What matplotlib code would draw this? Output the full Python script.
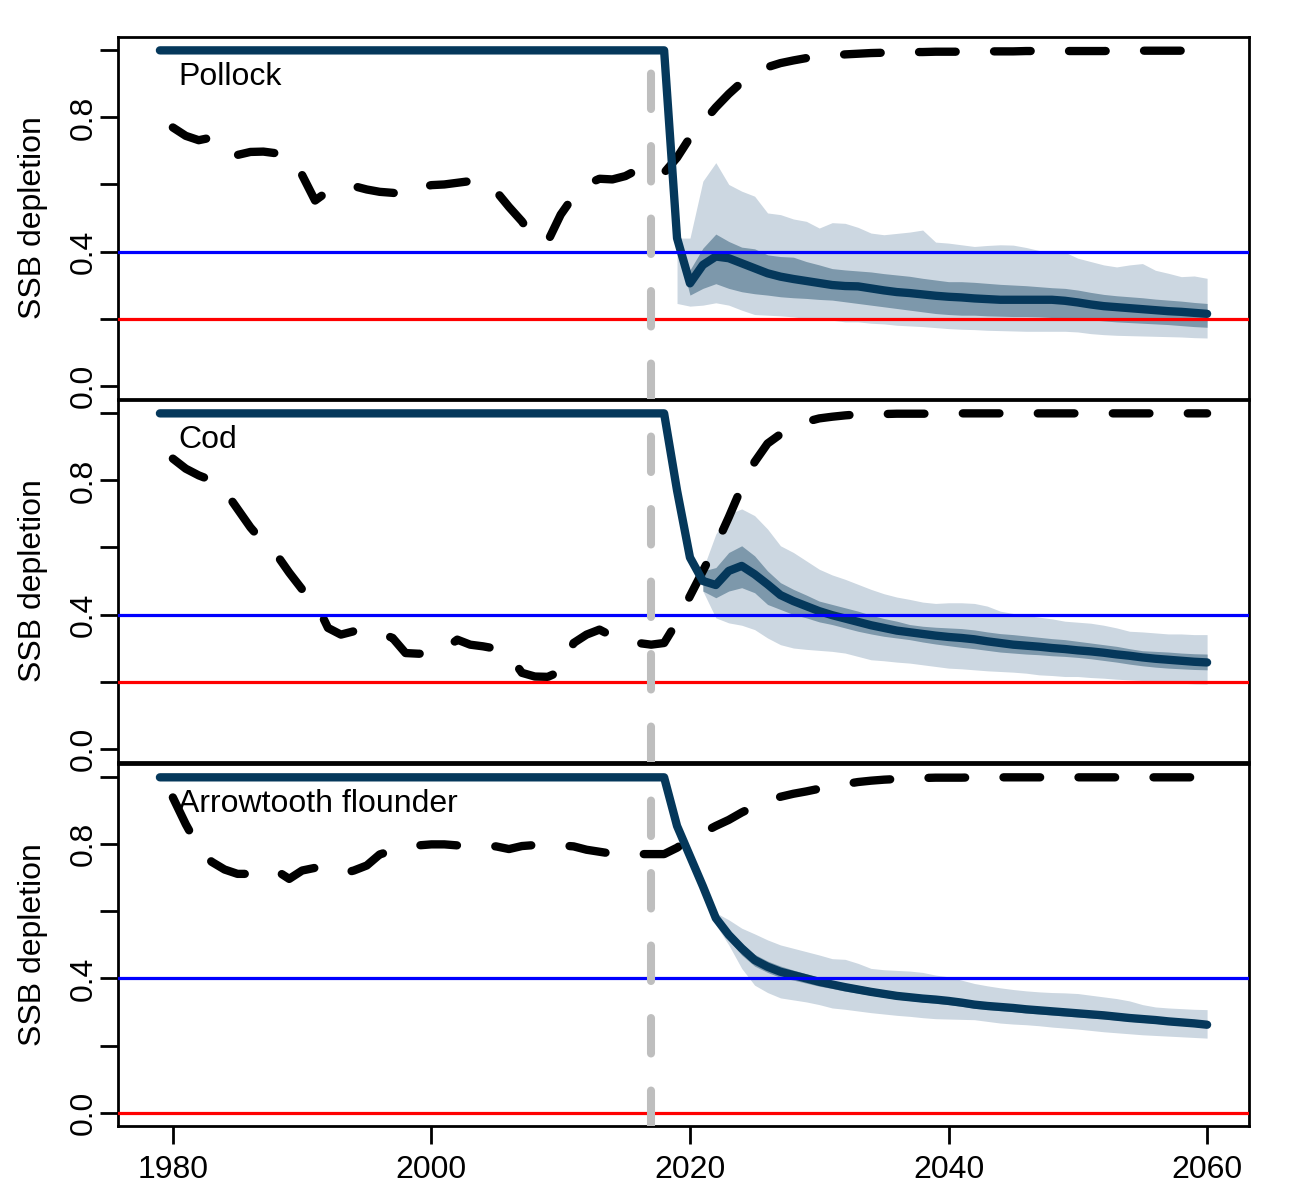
import matplotlib
matplotlib.use("Agg")
import matplotlib.pyplot as plt

plt.rcParams['font.family'] = ['Liberation Sans', 'DejaVu Sans']
plt.rcParams['font.size'] = 23

# years
years = list(range(1979, 2061))        # solid line
hist_years = list(range(1980, 2061))   # dashed line
ref_year = 2017

species = ['Pollock', 'Cod', 'Arrowtooth flounder']
target = [0.4, 0.4, 0.4]
limit = [0.2, 0.2, 0.0]

x_ticks = [1980, 2000, 2020, 2040, 2060]
y_ticks = [0.0, 0.2, 0.4, 0.6, 0.8, 1.0]
y_tick_labels = ['0.0', '', '0.4', '', '0.8', '']

# ---- Pollock ----
pollock_dashed = [
    0.770, 0.745, 0.732, 0.740, 0.700, 0.688, 0.697, 0.698, 0.693, 0.685,
    0.628, 0.552, 0.580, 0.593, 0.595, 0.585, 0.578, 0.575, 0.570, 0.590,
    0.598, 0.600, 0.605, 0.610, 0.610, 0.580, 0.533, 0.490, 0.435, 0.430,
    0.510, 0.565, 0.600, 0.617, 0.615, 0.625, 0.645, 0.655, 0.635, 0.680,
    0.740, 0.785, 0.830, 0.870, 0.905, 0.930, 0.950, 0.962, 0.970, 0.977,
    0.982, 0.985, 0.988, 0.990, 0.992, 0.993, 0.994, 0.995, 0.995, 0.996,
    0.996, 0.996, 0.997, 0.997, 0.997, 0.997, 0.998, 0.998, 0.998, 0.998,
    0.998, 0.998, 0.998, 0.999, 0.999, 0.999, 0.999, 0.999, 0.999, 0.999,
    0.999,
]
pollock_solid = [
    1.0,
    1.0, 1.0, 1.0, 1.0, 1.0, 1.0, 1.0, 1.0, 1.0, 1.0,
    1.0, 1.0, 1.0, 1.0, 1.0, 1.0, 1.0, 1.0, 1.0, 1.0,
    1.0, 1.0, 1.0, 1.0, 1.0, 1.0, 1.0, 1.0, 1.0, 1.0,
    1.0, 1.0, 1.0, 1.0, 1.0, 1.0, 1.0, 1.0, 1.0, 0.440,
    0.305, 0.360, 0.385, 0.380, 0.365, 0.350, 0.335, 0.325, 0.318, 0.312,
    0.306, 0.300, 0.297, 0.296, 0.290, 0.284, 0.279, 0.276, 0.272, 0.268,
    0.265, 0.263, 0.260, 0.258, 0.256, 0.256, 0.256, 0.256, 0.256, 0.253,
    0.248, 0.242, 0.237, 0.234, 0.231, 0.228, 0.225, 0.222, 0.220, 0.217,
    0.214,
]
pollock_band_years = list(range(2019, 2061))
pollock_light_hi = [
    0.440,
    0.440, 0.610, 0.665, 0.600, 0.580, 0.565, 0.515, 0.510, 0.497, 0.490,
    0.470, 0.486, 0.484, 0.472, 0.455, 0.450, 0.454, 0.458, 0.464, 0.428,
    0.425, 0.420, 0.415, 0.418, 0.420, 0.419, 0.412, 0.403, 0.400, 0.398,
    0.380, 0.370, 0.360, 0.354, 0.360, 0.364, 0.344, 0.335, 0.325, 0.327,
    0.320,
]
pollock_light_lo = [
    0.245,
    0.237, 0.240, 0.247, 0.240, 0.225, 0.212, 0.210, 0.208, 0.205, 0.200,
    0.198, 0.195, 0.190, 0.190, 0.186, 0.184, 0.180, 0.178, 0.176, 0.173,
    0.170, 0.168, 0.167, 0.165, 0.164, 0.163, 0.162, 0.162, 0.162, 0.162,
    0.160, 0.155, 0.152, 0.150, 0.149, 0.148, 0.147, 0.146, 0.145, 0.143,
    0.142,
]
pollock_dark_hi = [
    0.440,
    0.345, 0.410, 0.452, 0.430, 0.413, 0.408, 0.390, 0.385, 0.383, 0.370,
    0.360, 0.349, 0.345, 0.342, 0.339, 0.334, 0.330, 0.326, 0.320, 0.315,
    0.310, 0.310, 0.308, 0.305, 0.302, 0.300, 0.298, 0.295, 0.292, 0.290,
    0.285, 0.278, 0.272, 0.268, 0.265, 0.262, 0.258, 0.255, 0.252, 0.248,
    0.245,
]
pollock_dark_lo = [
    0.420,
    0.270, 0.290, 0.304, 0.290, 0.280, 0.274, 0.270, 0.265, 0.262, 0.260,
    0.257, 0.255, 0.250, 0.245, 0.240, 0.235, 0.230, 0.225, 0.220, 0.215,
    0.212, 0.210, 0.210, 0.208, 0.207, 0.206, 0.206, 0.205, 0.203, 0.200,
    0.198, 0.196, 0.193, 0.190, 0.188, 0.186, 0.184, 0.182, 0.179, 0.176,
    0.174,
]

# ---- Cod ----
cod_dashed = [
    0.865, 0.835, 0.815, 0.800, 0.770, 0.715, 0.660, 0.615, 0.580, 0.525,
    0.475, 0.440, 0.360, 0.340, 0.350, 0.355, 0.345, 0.330, 0.285, 0.283,
    0.283, 0.296, 0.325, 0.310, 0.305, 0.298, 0.280, 0.226, 0.215, 0.214,
    0.231, 0.315, 0.340, 0.355, 0.335, 0.320, 0.315, 0.310, 0.315, 0.378,
    0.455, 0.530, 0.605, 0.690, 0.780, 0.855, 0.910, 0.938, 0.960, 0.975,
    0.985, 0.990, 0.994, 0.997, 0.998, 0.998, 0.999, 0.999, 0.999, 0.999,
    1.0, 1.0, 1.0, 1.0, 1.0, 1.0, 1.0, 1.0, 1.0, 1.0,
    1.0, 1.0, 1.0, 1.0, 1.0, 1.0, 1.0, 1.0, 1.0, 1.0,
    1.0,
]
cod_solid = [
    1.0,
    1.0, 1.0, 1.0, 1.0, 1.0, 1.0, 1.0, 1.0, 1.0, 1.0,
    1.0, 1.0, 1.0, 1.0, 1.0, 1.0, 1.0, 1.0, 1.0, 1.0,
    1.0, 1.0, 1.0, 1.0, 1.0, 1.0, 1.0, 1.0, 1.0, 1.0,
    1.0, 1.0, 1.0, 1.0, 1.0, 1.0, 1.0, 1.0, 1.0, 0.770,
    0.570, 0.500, 0.488, 0.530, 0.545, 0.520, 0.490, 0.458, 0.440, 0.425,
    0.410, 0.398, 0.388, 0.378, 0.368, 0.360, 0.352, 0.347, 0.342, 0.337,
    0.333, 0.330, 0.326, 0.320, 0.315, 0.310, 0.307, 0.304, 0.300, 0.297,
    0.293, 0.290, 0.286, 0.281, 0.277, 0.272, 0.268, 0.265, 0.262, 0.259,
    0.257,
]
cod_band_years = list(range(2021, 2061))
cod_light_hi = [
    0.535, 0.640, 0.700, 0.715, 0.695, 0.655, 0.605, 0.585, 0.560,
    0.535, 0.518, 0.505, 0.490, 0.475, 0.462, 0.452, 0.445, 0.437, 0.433,
    0.435, 0.435, 0.433, 0.425, 0.410, 0.403, 0.397, 0.392, 0.387, 0.380,
    0.377, 0.374, 0.368, 0.360, 0.350, 0.348, 0.345, 0.342, 0.342, 0.340,
    0.340,
]
cod_light_lo = [
    0.470, 0.390, 0.375, 0.368, 0.355, 0.330, 0.310, 0.300, 0.296,
    0.293, 0.290, 0.285, 0.275, 0.265, 0.262, 0.258, 0.255, 0.250, 0.245,
    0.240, 0.238, 0.235, 0.232, 0.230, 0.228, 0.225, 0.220, 0.218, 0.215,
    0.215, 0.212, 0.210, 0.207, 0.205, 0.203, 0.200, 0.197, 0.195, 0.193,
    0.192,
]
cod_dark_hi = [
    0.530, 0.540, 0.585, 0.605, 0.575, 0.530, 0.495, 0.475, 0.458,
    0.440, 0.430, 0.420, 0.410, 0.398, 0.388, 0.380, 0.370, 0.365, 0.362,
    0.360, 0.358, 0.354, 0.348, 0.343, 0.340, 0.336, 0.332, 0.328, 0.325,
    0.320, 0.315, 0.310, 0.305, 0.298, 0.292, 0.290, 0.288, 0.285, 0.283,
    0.282,
]
cod_dark_lo = [
    0.470, 0.450, 0.470, 0.480, 0.465, 0.430, 0.415, 0.400, 0.390,
    0.378, 0.370, 0.360, 0.350, 0.342, 0.335, 0.330, 0.325, 0.318, 0.312,
    0.307, 0.302, 0.298, 0.293, 0.288, 0.285, 0.282, 0.280, 0.277, 0.275,
    0.272, 0.268, 0.263, 0.258, 0.252, 0.247, 0.243, 0.240, 0.238, 0.236,
    0.235,
]

# ---- Arrowtooth flounder ----
atf_dashed = [
    0.940, 0.860, 0.790, 0.748, 0.725, 0.712, 0.712, 0.715, 0.722, 0.697,
    0.722, 0.730, 0.720, 0.712, 0.722, 0.737, 0.770, 0.782, 0.790, 0.797,
    0.800, 0.800, 0.797, 0.795, 0.794, 0.794, 0.786, 0.795, 0.798, 0.800,
    0.797, 0.794, 0.784, 0.778, 0.772, 0.771, 0.771, 0.771, 0.771, 0.790,
    0.816, 0.835, 0.855, 0.873, 0.895, 0.914, 0.930, 0.942, 0.951, 0.958,
    0.966, 0.973, 0.980, 0.986, 0.990, 0.993, 0.995, 0.997, 0.998, 0.999,
    0.999, 0.999, 1.0, 1.0, 1.0, 1.0, 1.0, 1.0, 1.0, 1.0,
    1.0, 1.0, 1.0, 1.0, 1.0, 1.0, 1.0, 1.0, 1.0, 1.0,
    1.0,
]
atf_solid = [
    1.0,
    1.0, 1.0, 1.0, 1.0, 1.0, 1.0, 1.0, 1.0, 1.0, 1.0,
    1.0, 1.0, 1.0, 1.0, 1.0, 1.0, 1.0, 1.0, 1.0, 1.0,
    1.0, 1.0, 1.0, 1.0, 1.0, 1.0, 1.0, 1.0, 1.0, 1.0,
    1.0, 1.0, 1.0, 1.0, 1.0, 1.0, 1.0, 1.0, 1.0, 0.855,
    0.765, 0.675, 0.580, 0.530, 0.490, 0.455, 0.435, 0.420, 0.410, 0.400,
    0.390, 0.382, 0.374, 0.367, 0.360, 0.354, 0.348, 0.344, 0.340, 0.337,
    0.333, 0.328, 0.322, 0.318, 0.315, 0.312, 0.308, 0.305, 0.302, 0.299,
    0.296, 0.293, 0.290, 0.286, 0.282, 0.279, 0.276, 0.272, 0.269, 0.266,
    0.262,
]
atf_band_years = list(range(2022, 2061))
atf_light_hi = [
    0.596, 0.575, 0.550, 0.533, 0.515, 0.500, 0.490, 0.480,
    0.470, 0.459, 0.457, 0.445, 0.430, 0.426, 0.424, 0.422, 0.418, 0.410,
    0.405, 0.395, 0.385, 0.378, 0.372, 0.367, 0.363, 0.360, 0.358, 0.357,
    0.355, 0.350, 0.345, 0.340, 0.333, 0.322, 0.315, 0.312, 0.310, 0.308,
    0.307,
]
atf_light_lo = [
    0.560, 0.500, 0.430, 0.380, 0.358, 0.342, 0.336, 0.330,
    0.322, 0.312, 0.308, 0.303, 0.298, 0.294, 0.290, 0.287, 0.283, 0.280,
    0.279, 0.278, 0.277, 0.272, 0.267, 0.264, 0.262, 0.259, 0.255, 0.252,
    0.249, 0.245, 0.241, 0.238, 0.235, 0.232, 0.230, 0.228, 0.226, 0.224,
    0.222,
]
atf_dark_hi = [
    0.590, 0.545, 0.505, 0.472, 0.452, 0.437, 0.425, 0.414,
    0.403, 0.394, 0.386, 0.379, 0.372, 0.366, 0.360, 0.355, 0.351, 0.347,
    0.343, 0.338, 0.332, 0.328, 0.325, 0.322, 0.318, 0.315, 0.312, 0.309,
    0.306, 0.303, 0.300, 0.296, 0.292, 0.289, 0.286, 0.283, 0.280, 0.277,
    0.274,
]
atf_dark_lo = [
    0.570, 0.515, 0.470, 0.437, 0.418, 0.403, 0.395, 0.386,
    0.377, 0.370, 0.362, 0.356, 0.350, 0.344, 0.338, 0.334, 0.330, 0.326,
    0.322, 0.317, 0.311, 0.307, 0.304, 0.301, 0.297, 0.294, 0.291, 0.288,
    0.285, 0.282, 0.279, 0.276, 0.272, 0.269, 0.266, 0.263, 0.260, 0.257,
    0.253,
]


def main():
    fig = plt.figure(figsize=(12.9, 12.0), dpi=100)

    left, width, height = 0.0915, 0.8767, 0.3017
    bottoms = [0.6675, 0.365, 0.0617]

    dashed = [pollock_dashed, cod_dashed, atf_dashed]
    solid = [pollock_solid, cod_solid, atf_solid]
    band_years = [pollock_band_years, cod_band_years, atf_band_years]
    light = [(pollock_light_lo, pollock_light_hi),
             (cod_light_lo, cod_light_hi),
             (atf_light_lo, atf_light_hi)]
    dark = [(pollock_dark_lo, pollock_dark_hi),
            (cod_dark_lo, cod_dark_hi),
            (atf_dark_lo, atf_dark_hi)]

    dash = (0, (4.4, 4.6))

    for i, name in enumerate(species):
        ax = fig.add_axes([left, bottoms[i], width, height])

        ax.fill_between(band_years[i], light[i][0], light[i][1],
                        color='#CCD7E1', lw=0, zorder=1)
        ax.fill_between(band_years[i], dark[i][0], dark[i][1],
                        color='#7D98AB', lw=0, zorder=2)
        ax.plot(hist_years, dashed[i], color='black', lw=6, ls=dash,
                dash_capstyle='round', zorder=3)
        ax.plot(years, solid[i], color='#05385B', lw=6,
                solid_capstyle='round', solid_joinstyle='round', zorder=4)
        ax.axhline(target[i], color='blue', lw=2.3, zorder=5)
        ax.axhline(limit[i], color='red', lw=2.3, zorder=5)
        ax.axvline(ref_year, color='#BEBEBE', lw=5.8, ls=dash,
                   dash_capstyle='round', zorder=6)

        ax.text(0.053, 0.89, name, transform=ax.transAxes,
                ha='left', va='center', fontsize=23, zorder=7)

        ax.set_xlim(1975.76, 2063.24)
        ax.set_ylim(-0.04, 1.04)
        ax.set_yticks(y_ticks)
        ax.set_yticklabels(y_tick_labels, va='center')
        ax.tick_params(axis='y', labelrotation=90, length=13, width=2,
                       pad=1)
        ax.set_ylabel('SSB depletion')
        ax.yaxis.set_label_coords(-0.062, 0.5)

        if i == 2:
            ax.set_xticks(x_ticks)
            ax.tick_params(axis='x', length=13, width=2, pad=8)
        else:
            ax.set_xticks([])

        for spine in ax.spines.values():
            spine.set_linewidth(2)

    fig.savefig('out.png', dpi=100)


if __name__ == '__main__':
    main()
